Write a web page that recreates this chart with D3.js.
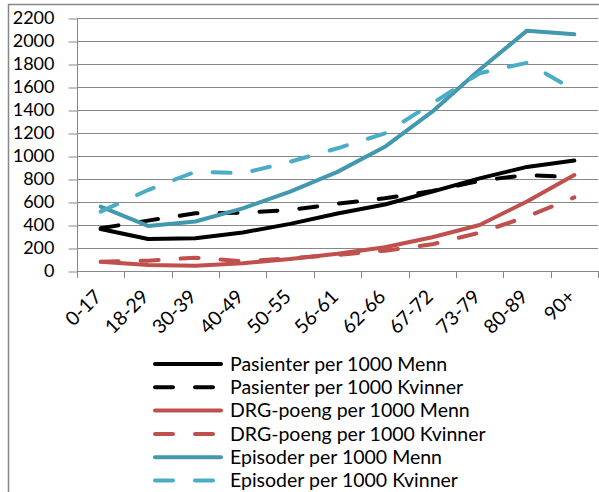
<!DOCTYPE html>
<html>
<head>
<meta charset="utf-8">
<script src="https://cdn.jsdelivr.net/npm/d3@7"></script>
<style>
  html, body { margin: 0; padding: 0; background: #fff; }
  svg { display: block; }
  text { font-family: Lato, "Open Sans", sans-serif; fill: #000; }
</style>
</head>
<body>
<svg id="chart" width="599" height="492"></svg>
<script>
// Age groups on the x axis
const categories = ["0-17", "18-29", "30-39", "40-49", "50-55", "56-61", "62-66", "67-72", "73-79", "80-89", "90+"];

// Rates per 1000 inhabitants, by sex
const pasienterMenn    = [365, 278, 285, 335, 410, 500, 578, 690, 805, 905, 960];
const pasienterKvinner = [372, 438, 502, 507, 530, 585, 632, 696, 785, 835, 815];
const drgMenn          = [80, 52, 46, 67, 104, 150, 206, 293, 400, 605, 835];
const drgKvinner       = [80, 90, 116, 85, 110, 140, 177, 232, 333, 472, 640];
const episoderMenn     = [560, 392, 430, 545, 690, 862, 1080, 1385, 1750, 2090, 2058];
const episoderKvinner  = [516, 704, 863, 850, 950, 1067, 1197, 1458, 1719, 1811, 1574];

const yTicks = [0, 200, 400, 600, 800, 1000, 1200, 1400, 1600, 1800, 2000, 2200];

const seriesNames = [
  "Pasienter per 1000 Menn",
  "Pasienter per 1000 Kvinner",
  "DRG-poeng per 1000 Menn",
  "DRG-poeng per 1000 Kvinner",
  "Episoder per 1000 Menn",
  "Episoder per 1000 Kvinner"
];
const seriesValues = [pasienterMenn, pasienterKvinner, drgMenn, drgKvinner, episoderMenn, episoderKvinner];
const seriesColors = ["#000000", "#000000", "#C0504D", "#C0504D", "#4198AF", "#4BACC6"];
const seriesDashed = [false, true, false, true, false, true];

const series = seriesNames.map((name, i) => ({
  name, values: seriesValues[i], color: seriesColors[i], dashed: seriesDashed[i]
}));

const svg = d3.select("#chart");
const plot = { left: 77, right: 598, top: 18, bottom: 271 };
const gridColor = "#878787";
const dash = "18 22";

// outer chart frame
svg.append("rect")
  .attr("x", 8.5).attr("y", 4.5)
  .attr("width", 620).attr("height", 520)
  .attr("fill", "none").attr("stroke", gridColor).attr("stroke-width", 1.5);

const x = d3.scaleBand().domain(categories).range([plot.left, plot.right]).padding(0);
const y = d3.scaleLinear().domain([0, 2200]).range([plot.bottom, plot.top]);
const cx = c => x(c) + x.bandwidth() / 2;

// horizontal gridlines
svg.append("g")
  .selectAll("line")
  .data(yTicks.filter(t => t > 0))
  .join("line")
  .attr("x1", plot.left).attr("x2", plot.right)
  .attr("y1", d => Math.round(y(d)) + 0.5).attr("y2", d => Math.round(y(d)) + 0.5)
  .attr("stroke", gridColor).attr("stroke-width", 1);

// y axis
const yAxis = svg.append("g")
  .attr("transform", `translate(${plot.left + 0.5},0)`)
  .call(d3.axisLeft(y).tickValues(yTicks).tickSize(9).tickPadding(14).tickFormat(d3.format("d")));
yAxis.select(".domain").attr("stroke", gridColor).attr("d", `M0,${plot.top}V${Math.round(plot.bottom) + 0.5}`);
yAxis.selectAll(".tick line").attr("stroke", gridColor)
  .attr("transform", d => `translate(0,${Math.round(y(d)) + 0.5 - y(d)})`);
yAxis.selectAll(".tick text")
  .style("font-family", "Lato, sans-serif").style("font-size", "18px").attr("fill", "#000");

// x axis line and category boundary ticks
const xAxis = svg.append("g");
xAxis.append("line")
  .attr("x1", plot.left).attr("x2", plot.right)
  .attr("y1", Math.round(plot.bottom) + 0.5).attr("y2", Math.round(plot.bottom) + 0.5)
  .attr("stroke", gridColor);
const edges = categories.map(c => x(c)).concat([x.range()[1]]);
xAxis.selectAll("line.edge")
  .data(edges)
  .join("line")
  .attr("class", "edge")
  .attr("x1", d => Math.round(d) + 0.5).attr("x2", d => Math.round(d) + 0.5)
  .attr("y1", plot.bottom).attr("y2", plot.bottom + 7)
  .attr("stroke", gridColor);

// rotated category labels
xAxis.selectAll("text")
  .data(categories)
  .join("text")
  .attr("text-anchor", "end")
  .attr("transform", d => `translate(${cx(d) + 2},${plot.bottom + 27}) rotate(-45)`)
  .style("font-size", "19.5px")
  .text(d => d);

// series lines
const line = d3.line()
  .x((d, i) => cx(categories[i]))
  .y(d => y(d));

svg.append("g")
  .selectAll("path")
  .data(series)
  .join("path")
  .attr("d", d => line(d.values))
  .attr("fill", "none")
  .attr("stroke", d => d.color)
  .attr("stroke-width", 4)
  .attr("stroke-linecap", "round")
  .attr("stroke-linejoin", "round")
  .attr("stroke-dasharray", d => d.dashed ? dash : null);

// legend
const legend = svg.append("g");
const rowY = i => 364 + i * 23.3;
const items = legend.selectAll("g")
  .data(series)
  .join("g")
  .attr("transform", (d, i) => `translate(0,${rowY(i)})`);
items.append("line")
  .attr("x1", 155).attr("x2", 221)
  .attr("y1", 0).attr("y2", 0)
  .attr("stroke", d => d.color)
  .attr("stroke-width", 4)
  .attr("stroke-linecap", "round")
  .attr("stroke-dasharray", d => d.dashed ? dash : null);
items.append("text")
  .attr("x", 230).attr("y", 0).attr("dy", "0.35em")
  .style("font-size", "19.5px")
  .text(d => d.name);
</script>
</body>
</html>
